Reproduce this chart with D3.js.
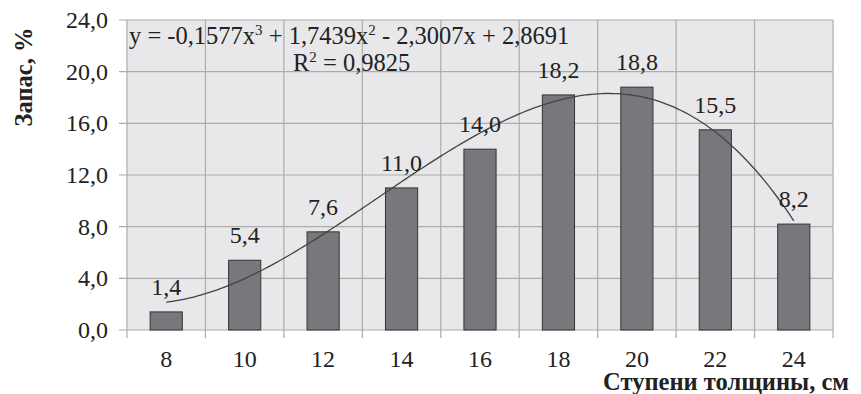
<!DOCTYPE html>
<html>
<head>
<meta charset="utf-8">
<script src="https://cdn.jsdelivr.net/npm/d3@7"></script>
<style>
  html, body { margin: 0; padding: 0; background: #fff; }
  svg { display: block; font-family: "Liberation Serif", "Times New Roman", serif; }
</style>
</head>
<body>
<svg id="chart" width="861" height="394"></svg>
<script>
// categories (thickness classes, cm) and stock share, %
const categories = ["8", "10", "12", "14", "16", "18", "20", "22", "24"];
const values = [1.4, 5.4, 7.6, 11.0, 14.0, 18.2, 18.8, 15.5, 8.2];
const yTicks = [0, 4, 8, 12, 16, 20, 24];
// polynomial trend from the chart: y = a3 x^3 + a2 x^2 + a1 x + a0, x = 1..9
const trendCoef = [-0.1577, 1.7439, -2.3007, 2.8691];

const fmt = v => v.toFixed(1).replace(".", ",");

const svg = d3.select("#chart");
const m = { left: 127, right: 833, top: 20, bottom: 330 };

const xg = d3.scaleBand().domain(categories).range([m.left, m.right]).padding(0);
const xb = d3.scaleBand().domain(categories).range([m.left, m.right]).paddingInner(0.59).paddingOuter(0.295);
const y = d3.scaleLinear().domain([0, 24]).range([m.bottom, m.top]);
const xi = d3.scaleLinear().domain([1, categories.length])
  .range([xg(categories[0]) + xg.bandwidth() / 2, xg(categories[categories.length - 1]) + xg.bandwidth() / 2]);

// plot background
svg.append("rect")
  .attr("x", m.left).attr("y", m.top)
  .attr("width", m.right - m.left).attr("height", m.bottom - m.top)
  .attr("fill", "#e8e8ea");

// grid
const grid = svg.append("g").attr("stroke", "#acacac").attr("stroke-width", 1.2);
yTicks.forEach(t => {
  grid.append("line")
    .attr("x1", m.left - 8).attr("x2", m.right)
    .attr("y1", y(t)).attr("y2", y(t));
});
const bounds = categories.map(c => xg(c)).concat([m.right]);
bounds.forEach(b => {
  grid.append("line")
    .attr("x1", b).attr("x2", b)
    .attr("y1", m.top).attr("y2", m.bottom + 8);
});

// y tick labels
svg.append("g").selectAll("text")
  .data(yTicks).join("text")
  .attr("x", 108).attr("y", d => y(d) + 8)
  .attr("text-anchor", "end")
  .attr("font-size", 24).attr("fill", "#222")
  .text(fmt);

// x tick labels
svg.append("g").selectAll("text")
  .data(categories).join("text")
  .attr("x", d => xg(d) + xg.bandwidth() / 2).attr("y", 367)
  .attr("text-anchor", "middle")
  .attr("font-size", 24).attr("fill", "#222")
  .text(d => d);

// bars
svg.append("g").selectAll("rect")
  .data(values).join("rect")
  .attr("x", (d, i) => xb(categories[i]))
  .attr("y", d => y(d))
  .attr("width", xb.bandwidth())
  .attr("height", d => y(0) - y(d))
  .attr("fill", "#78787c")
  .attr("stroke", "#333")
  .attr("stroke-width", 1);

// trend line
const poly = x => trendCoef[0] * x ** 3 + trendCoef[1] * x ** 2 + trendCoef[2] * x + trendCoef[3];
const tx = d3.range(1, categories.length + 0.001, 0.05);
svg.append("path")
  .datum(tx)
  .attr("fill", "none")
  .attr("stroke", "#444")
  .attr("stroke-width", 1.3)
  .attr("d", d3.line().x(d => xi(d)).y(d => y(poly(d))).curve(d3.curveBasis));

// data labels
svg.append("g").selectAll("text")
  .data(values).join("text")
  .attr("x", (d, i) => xb(categories[i]) + xb.bandwidth() / 2)
  .attr("y", d => y(d) - 17)
  .attr("text-anchor", "middle")
  .attr("font-size", 24).attr("fill", "#222")
  .text(fmt);

// equation
const eq = svg.append("text")
  .attr("x", 129).attr("y", 44)
  .attr("font-size", 24.5).attr("fill", "#222");
eq.append("tspan").text("y = -0,1577x");
eq.append("tspan").attr("font-size", 15).attr("dy", -9).text("3");
eq.append("tspan").attr("dy", 9).text(" + 1,7439x");
eq.append("tspan").attr("font-size", 15).attr("dy", -9).text("2");
eq.append("tspan").attr("dy", 9).text(" - 2,3007x + 2,8691");

const r2 = svg.append("text")
  .attr("x", 293).attr("y", 71)
  .attr("font-size", 24.5).attr("fill", "#222");
r2.append("tspan").text("R");
r2.append("tspan").attr("font-size", 15).attr("dy", -9).text("2");
r2.append("tspan").attr("dy", 9).text(" = 0,9825");

// axis titles
svg.append("text")
  .attr("x", 849).attr("y", 390)
  .attr("text-anchor", "end")
  .attr("font-size", 24.5).attr("font-weight", "bold").attr("fill", "#222")
  .text("Ступени толщины, см");

svg.append("text")
  .attr("transform", "translate(32,77) rotate(-90)")
  .attr("text-anchor", "middle")
  .attr("font-size", 24.5).attr("font-weight", "bold").attr("fill", "#222")
  .text("Запас, %");
</script>
</body>
</html>
